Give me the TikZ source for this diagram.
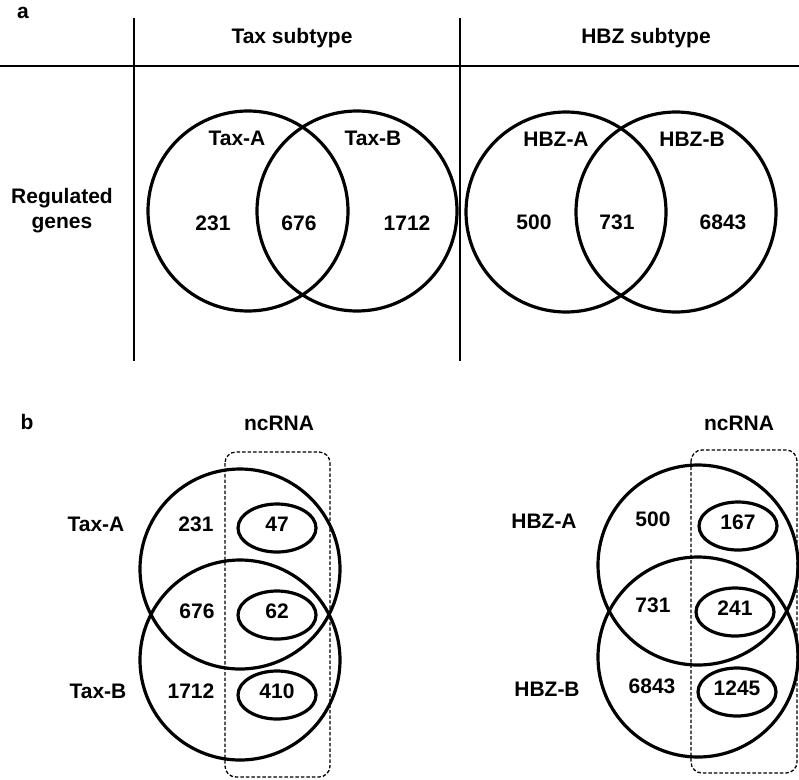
\documentclass[tikz,border=0pt]{standalone}
\usepackage{fontspec}
\setmainfont{Liberation Sans}
\usetikzlibrary{shapes.geometric}

\begin{document}
\begin{tikzpicture}[x=1pt,y=-1pt,
    txt/.style={font=\fontsize{21}{25}\selectfont\bfseries, inner sep=0pt},
    lbl/.style={txt, text height=0.716em, text depth=0pt},
    venn/.style={draw, circle, line width=3.2pt, minimum size=200pt, inner sep=0pt},
    rna/.style={draw, ellipse, line width=3.2pt, minimum width=78pt, minimum height=48pt, inner sep=0pt, lbl},
    ncbox/.style={line width=1.3pt, dash pattern=on 3.5pt off 2pt, rounded corners=11pt}]
    \useasboundingbox (0,0) rectangle (799,779);

    % Panel a: table lines
    \draw[line width=2.2pt] (0,66) -- (799,66);
    \draw[line width=2.2pt] (134,18) -- (134,361);
    \draw[line width=2.2pt] (460,18) -- (460,361);
    \node[lbl] (pa) at (23,15) {a};
    \node[lbl] (taxhead) at (292,40) {Tax subtype};
    \node[lbl] (hbzhead) at (646,40) {HBZ subtype};
    \node[txt, align=center] (reg) at (62,211) {Regulated\\genes};

    % Panel a: Tax Venn
    \node[venn] (taxa) at (248,211) {};
    \node[venn] (taxb) at (357,211) {};
    \node[lbl] (taxalbl) at (237,142) {Tax-A};
    \node[lbl] (taxblbl) at (373,142) {Tax-B};
    \node[lbl] (t231) at (213,227) {231};
    \node[lbl] (t676) at (299,227) {676};
    \node[lbl] (t1712) at (407,227) {1712};

    % Panel a: HBZ Venn
    \node[venn] (hbza) at (566,212) {};
    \node[venn] (hbzb) at (676,212) {};
    \node[lbl] (hbzalbl) at (556,143) {HBZ-A};
    \node[lbl] (hbzblbl) at (692,143) {HBZ-B};
    \node[lbl] (h500) at (534,226) {500};
    \node[lbl] (h731) at (617,226) {731};
    \node[lbl] (h6843) at (723,226) {6843};

    % Panel b: Tax with ncRNA
    \node[lbl] (pb) at (27,426) {b};
    \draw[ncbox] (225,452) rectangle (330,777);
    \node[lbl] (taxnc) at (279,427) {ncRNA};
    \node[venn] (btaxa) at (240,569) {};
    \node[venn] (btaxb) at (240,660) {};
    \node[lbl] (btaxalbl) at (96,528) {Tax-A};
    \node[lbl] (btaxblbl) at (98,695) {Tax-B};
    \node[lbl] (b231) at (196,528) {231};
    \node[lbl] (b676) at (197,615) {676};
    \node[lbl] (b1712) at (191,695) {1712};
    \node[rna] (n47) at (277,528) {47};
    \node[rna] (n62) at (277,615) {62};
    \node[rna] (n410) at (277,695) {410};

    % Panel b: HBZ with ncRNA
    \draw[ncbox] (691,450) rectangle (797,773);
    \node[lbl] (hbznc) at (739,427) {ncRNA};
    \node[venn] (bhbza) at (698,565) {};
    \node[venn] (bhbzb) at (698,657) {};
    \node[lbl] (bhbzalbl) at (544,525) {HBZ-A};
    \node[lbl] (bhbzblbl) at (547,693) {HBZ-B};
    \node[lbl] (b500) at (653,523) {500};
    \node[lbl] (b731) at (653,609) {731};
    \node[lbl] (b6843) at (652,690) {6843};
    \node[rna] (n167) at (738,526) {167};
    \node[rna] (n241) at (735,612) {241};
    \node[rna] (n1245) at (737,692) {1245};
\end{tikzpicture}
\end{document}
